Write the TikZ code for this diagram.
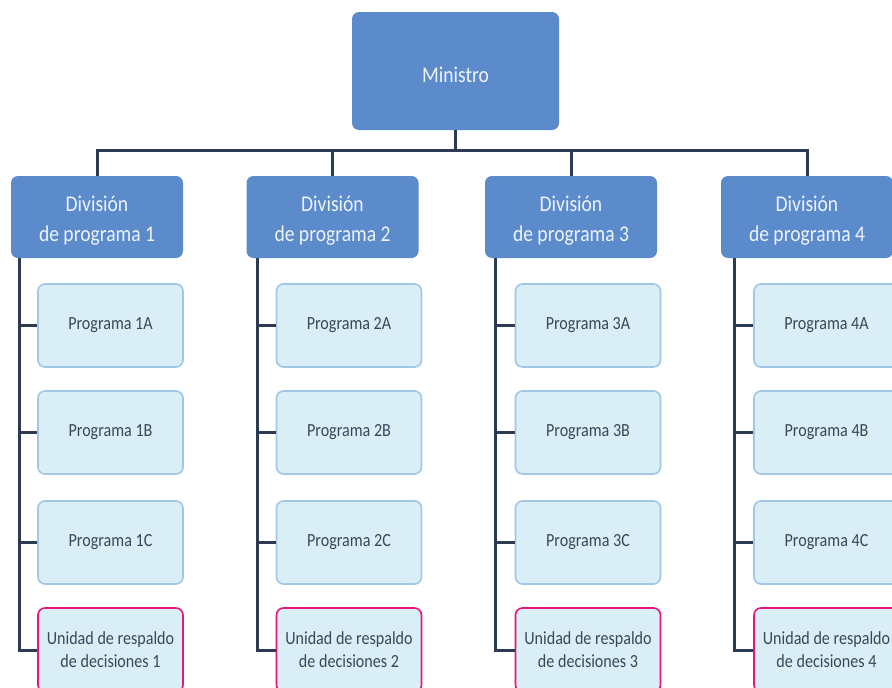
\documentclass[tikz,border=0pt]{standalone}
\usepackage{fontspec}
\setmainfont{Carlito}[FakeStretch=0.87]
\definecolor{topblue}{HTML}{5B8BCB}
\definecolor{lineC}{HTML}{2C3B52}
\definecolor{progfill}{HTML}{DAEEF6}
\definecolor{progedge}{HTML}{A2C6E8}
\definecolor{magentaC}{HTML}{E8157F}
\definecolor{txtC}{HTML}{3A4759}
\definecolor{wtxt}{HTML}{EEF3FA}
\tikzset{
  topbox/.style={fill=topblue, rounded corners=7pt, minimum width=207pt, minimum height=118pt, inner sep=0pt},
  divbox/.style={fill=topblue, rounded corners=7pt, minimum width=172pt, minimum height=82pt, inner sep=0pt},
  wlabel/.style={inner sep=0pt, text=wtxt, font=\fontsize{22.5}{30}\selectfont, align=center},
  progbox/.style={draw=progedge, line width=1.6pt, fill=progfill, rounded corners=7pt, minimum width=145pt, minimum height=83pt, inner sep=0pt, text=txtC, font=\fontsize{18.5}{23}\selectfont, align=center},
  unibox/.style={progbox, draw=magentaC, minimum height=84pt},
  conn/.style={draw=lineC, line width=3pt},
}
\begin{document}
\begin{tikzpicture}[x=1pt,y=-1pt]
\useasboundingbox[clip] (0,0) rectangle (892,688);
\fill[white] (0,0) rectangle (892,688);
\node[topbox] (m) at (455.5,71) {};
\node[wlabel] (mt) at ([yshift=-4pt]m.center) {Ministro};
\coordinate (bus) at (0,150);
\foreach \i/\x/\tx/\px in {1/97/19/110.5, 2/332.5/257/349, 3/571/495/588, 4/807/734/826.5}{
  \node[divbox] (d\i) at (\x,217) {};
  \node[wlabel] (dt\i) at ([yshift=-4pt]d\i.center) {División\\de programa \i};
  \node[progbox] (p\i a) at (\px,325.5) {Programa \i A};
  \node[progbox] (p\i b) at (\px,432.5) {Programa \i B};
  \node[progbox] (p\i c) at (\px,542.5) {Programa \i C};
  \node[unibox] (u\i) at (\px,650) {Unidad de respaldo\\de decisiones \i};
  \coordinate (t\i) at (\tx,258);
  \draw[conn] (d\i.north) -- (d\i.north |- bus);
  \draw[conn] (t\i) |- (u\i.west);
  \draw[conn] (t\i) |- (p\i a.west);
  \draw[conn] (t\i) |- (p\i b.west);
  \draw[conn] (t\i) |- (p\i c.west);
}
\draw[conn] (m.south) -- (m.south |- bus);
\draw[conn] ([xshift=-1.5pt]d1.north |- bus) -- ([xshift=1.5pt]d4.north |- bus);
\end{tikzpicture}
\end{document}
